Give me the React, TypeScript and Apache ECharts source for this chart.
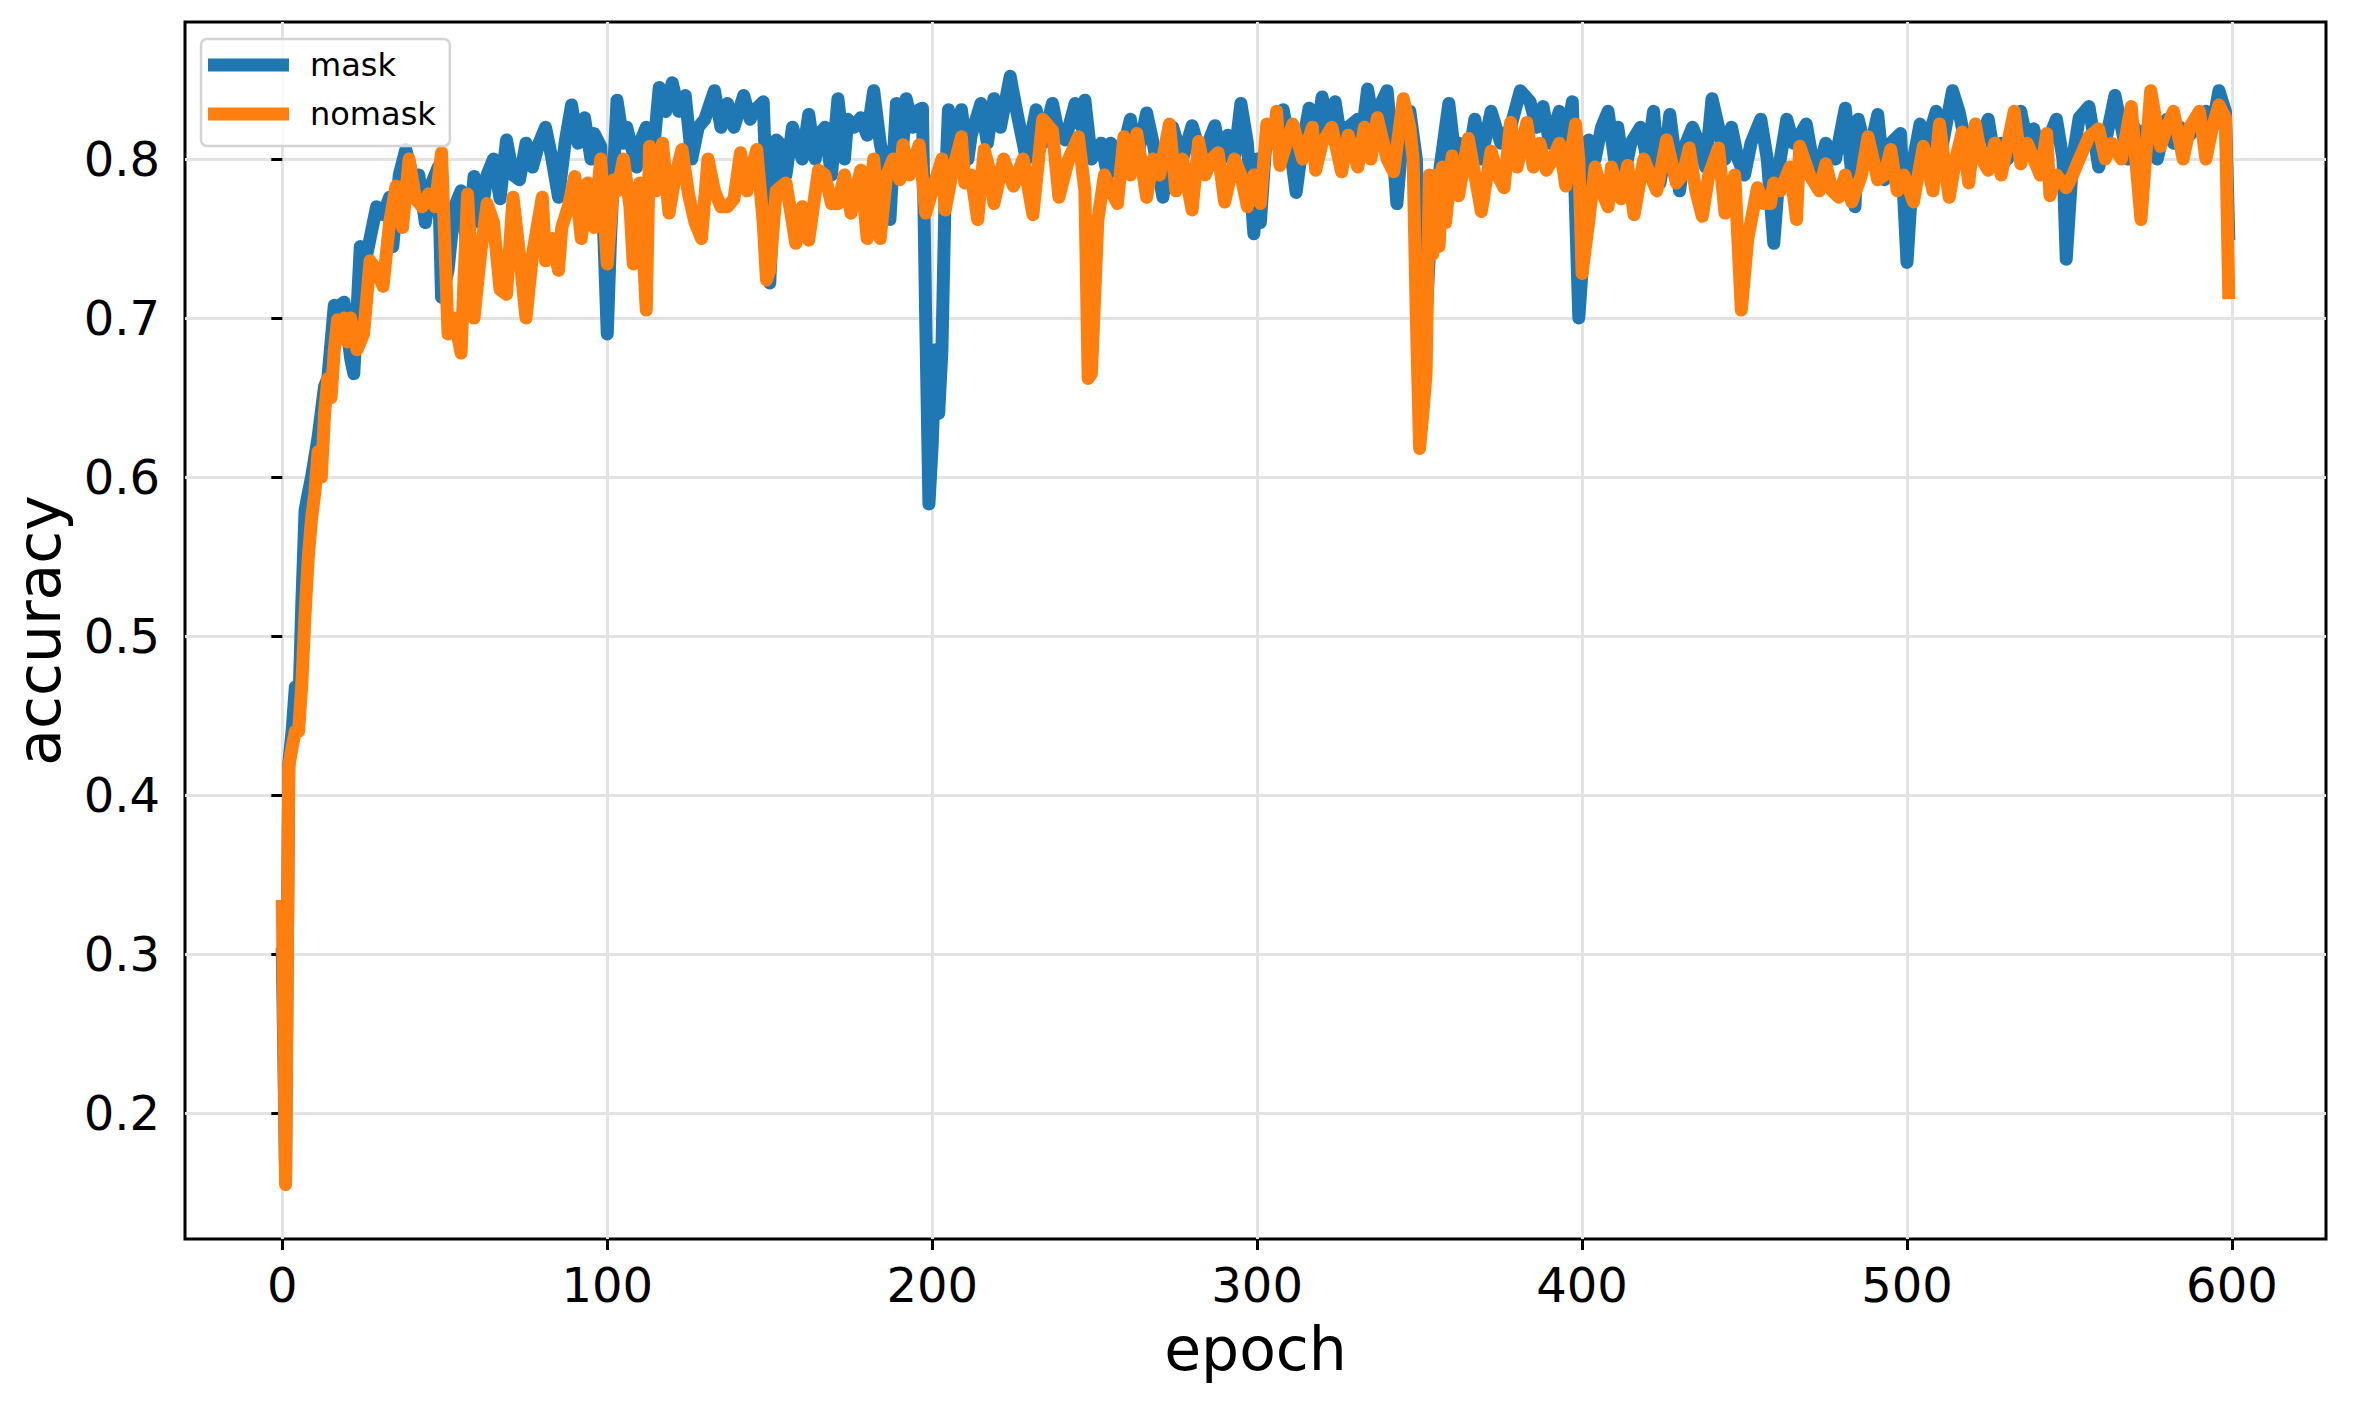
import React, { useEffect, useRef } from "react";
import * as echarts from "echarts";

// ---- data ----
const maskEpochs = [
  0, 1, 2, 3, 4, 5, 6, 7, 8, 9, 11, 13, 14, 16, 17, 19, 21, 22, 24, 26, 28, 29, 31, 33, 34, 36, 38, 40, 42, 44,
  46, 48, 49, 51, 53, 55, 57, 59, 61, 63, 65, 67, 69, 71, 73, 75, 77, 79, 81, 83, 85, 87, 89, 91, 93, 95, 96, 98, 100, 101,
  103, 105, 106, 109, 110, 112, 114, 116, 118, 120, 122, 124, 126, 128, 130, 133, 135, 137, 139, 142, 144, 145, 148, 150, 152, 153, 155, 157, 160, 162,
  164, 165, 167, 169, 171, 173, 174, 176, 178, 180, 182, 184, 185, 187, 189, 191, 192, 194, 195, 197, 198, 199, 200, 201, 202, 203, 204, 205, 207, 209,
  211, 212, 215, 217, 219, 221, 224, 226, 227, 229, 232, 234, 237, 239, 241, 244, 246, 247, 249, 252, 254, 255, 258, 261, 263, 266, 268, 271, 274, 277,
  280, 283, 287, 289, 291, 293, 295, 297, 299, 300, 301, 303, 305, 308, 310, 312, 314, 316, 318, 320, 322, 324, 326, 328, 331, 332, 334, 336, 337, 340,
  342, 343, 345, 347, 349, 351, 352, 354, 356, 359, 361, 362, 365, 367, 369, 372, 375, 378, 381, 384, 386, 388, 390, 393, 395, 397, 399, 400, 402, 404,
  406, 408, 410, 411, 413, 415, 418, 420, 422, 424, 426, 427, 430, 432, 434, 436, 438, 440, 442, 444, 446, 448, 450, 452, 455, 457, 459, 461, 463, 465,
  467, 469, 472, 475, 478, 481, 484, 485, 488, 491, 493, 495, 498, 500, 502, 504, 506, 509, 511, 514, 516, 518, 520, 522, 525, 527, 529, 531, 533, 535,
  537, 539, 541, 543, 546, 548, 549, 551, 553, 556, 559, 561, 564, 566, 568, 570, 572, 574, 577, 580, 582, 584, 587, 589, 592, 594, 596, 598, 599,
];
const maskAcc = [
  0.30, 0.16, 0.42, 0.44, 0.468, 0.45, 0.52, 0.579, 0.59, 0.60, 0.625, 0.657, 0.662, 0.708, 0.707, 0.71, 0.675, 0.665, 0.745, 0.74, 0.76, 0.77, 0.765, 0.776, 0.745, 0.79, 0.806, 0.79, 0.79, 0.76,
  0.785, 0.795, 0.713, 0.73, 0.77, 0.78, 0.74, 0.789, 0.76, 0.79, 0.80, 0.775, 0.812, 0.79, 0.787, 0.81, 0.795, 0.81, 0.82, 0.80, 0.776, 0.81, 0.834, 0.81, 0.826, 0.80, 0.816, 0.808, 0.69, 0.75,
  0.837, 0.81, 0.82, 0.795, 0.81, 0.82, 0.80, 0.845, 0.83, 0.848, 0.83, 0.84, 0.80, 0.82, 0.825, 0.843, 0.82, 0.835, 0.82, 0.84, 0.825, 0.83, 0.836, 0.722, 0.812, 0.81, 0.79, 0.82, 0.80, 0.828,
  0.80, 0.815, 0.82, 0.79, 0.838, 0.80, 0.825, 0.82, 0.826, 0.815, 0.843, 0.81, 0.80, 0.762, 0.835, 0.81, 0.838, 0.82, 0.83, 0.832, 0.70, 0.583, 0.62, 0.68, 0.64, 0.68, 0.78, 0.831, 0.80, 0.831,
  0.80, 0.815, 0.835, 0.81, 0.838, 0.82, 0.852, 0.83, 0.82, 0.80, 0.831, 0.81, 0.835, 0.815, 0.812, 0.835, 0.82, 0.837, 0.80, 0.81, 0.79, 0.81, 0.80, 0.825, 0.80, 0.829, 0.81, 0.776, 0.82, 0.80,
  0.821, 0.80, 0.821, 0.80, 0.815, 0.80, 0.835, 0.81, 0.753, 0.80, 0.76, 0.82, 0.81, 0.831, 0.81, 0.779, 0.81, 0.832, 0.81, 0.839, 0.82, 0.836, 0.81, 0.82, 0.825, 0.81, 0.844, 0.82, 0.83, 0.843,
  0.80, 0.772, 0.82, 0.83, 0.80, 0.667, 0.70, 0.78, 0.79, 0.835, 0.80, 0.81, 0.80, 0.825, 0.80, 0.83, 0.81, 0.82, 0.843, 0.836, 0.82, 0.833, 0.81, 0.83, 0.81, 0.836, 0.70, 0.73, 0.812, 0.80,
  0.82, 0.83, 0.80, 0.82, 0.79, 0.81, 0.82, 0.80, 0.83, 0.785, 0.81, 0.828, 0.78, 0.81, 0.82, 0.81, 0.795, 0.838, 0.82, 0.80, 0.82, 0.80, 0.79, 0.81, 0.825, 0.80, 0.747, 0.80, 0.825, 0.81,
  0.815, 0.822, 0.787, 0.81, 0.80, 0.832, 0.77, 0.825, 0.80, 0.828, 0.787, 0.81, 0.816, 0.735, 0.80, 0.822, 0.81, 0.83, 0.81, 0.843, 0.83, 0.81, 0.80, 0.81, 0.825, 0.80, 0.81, 0.80, 0.82, 0.83,
  0.81, 0.819, 0.80, 0.81, 0.825, 0.80, 0.737, 0.80, 0.826, 0.833, 0.795, 0.81, 0.84, 0.82, 0.80, 0.82, 0.81, 0.82, 0.80, 0.825, 0.81, 0.82, 0.815, 0.82, 0.83, 0.82, 0.843, 0.83, 0.753,
];

const nomaskEpochs = [
  0, 1, 2, 3, 4, 5, 6, 7, 8, 9, 10, 11, 12, 13, 14, 15, 16, 17, 18, 19, 20, 21, 23, 25, 27, 29, 31, 33, 35, 37,
  39, 41, 43, 45, 47, 49, 51, 53, 55, 57, 59, 61, 63, 65, 67, 69, 71, 73, 75, 77, 80, 81, 83, 85, 86, 88, 90, 92, 94, 96,
  98, 100, 102, 103, 105, 107, 108, 110, 112, 113, 115, 117, 119, 121, 123, 125, 127, 129, 131, 133, 135, 137, 139, 141, 143, 144, 146, 148, 149, 150,
  152, 155, 157, 158, 160, 162, 165, 167, 169, 171, 173, 175, 178, 180, 182, 184, 186, 188, 190, 191, 193, 196, 198, 200, 203, 204, 206, 209, 210, 212,
  214, 216, 218, 219, 222, 225, 228, 231, 234, 237, 239, 242, 245, 247, 248, 249, 251, 253, 255, 257, 259, 261, 263, 266, 268, 270, 273, 275, 277, 280,
  282, 284, 286, 288, 290, 293, 295, 297, 299, 301, 303, 305, 306, 307, 309, 311, 314, 317, 318, 320, 323, 326, 328, 331, 333, 335, 337, 340, 342, 345,
  347, 348, 349, 350, 351, 352, 353, 354, 355, 356, 357, 358, 360, 362, 365, 367, 369, 372, 374, 376, 378, 380, 383, 385, 387, 389, 391, 393, 395, 398,
  399, 400, 402, 404, 406, 408, 409, 412, 414, 416, 419, 421, 423, 426, 429, 431, 433, 435, 437, 439, 442, 444, 447, 449, 451, 454, 456, 458, 459, 461,
  464, 466, 467, 470, 473, 475, 477, 479, 481, 483, 486, 488, 491, 493, 495, 497, 499, 502, 505, 508, 510, 512, 513, 515, 517, 519, 521, 523, 525, 527,
  529, 531, 533, 535, 537, 539, 541, 543, 544, 546, 549, 551, 553, 556, 559, 561, 563, 566, 569, 572, 575, 578, 580, 582, 585, 587, 590, 592, 594, 596,
  598, 599,
];
const nomaskAcc = [
  0.33, 0.155, 0.418, 0.43, 0.44, 0.44, 0.47, 0.514, 0.55, 0.574, 0.59, 0.616, 0.60, 0.64, 0.662, 0.65, 0.68, 0.699, 0.69, 0.70, 0.685, 0.70, 0.68, 0.69, 0.736, 0.73, 0.72, 0.76, 0.783, 0.757,
  0.80, 0.775, 0.77, 0.778, 0.77, 0.804, 0.69, 0.70, 0.678, 0.778, 0.70, 0.74, 0.772, 0.76, 0.718, 0.715, 0.776, 0.74, 0.70, 0.74, 0.776, 0.736, 0.75, 0.73, 0.757, 0.77, 0.789, 0.75, 0.785, 0.757,
  0.80, 0.734, 0.787, 0.78, 0.80, 0.77, 0.734, 0.785, 0.705, 0.808, 0.78, 0.81, 0.766, 0.79, 0.806, 0.778, 0.76, 0.75, 0.80, 0.78, 0.77, 0.77, 0.775, 0.804, 0.78, 0.79, 0.806, 0.76, 0.724, 0.73,
  0.78, 0.785, 0.76, 0.747, 0.77, 0.749, 0.793, 0.79, 0.772, 0.772, 0.79, 0.766, 0.793, 0.75, 0.80, 0.75, 0.79, 0.80, 0.787, 0.809, 0.79, 0.809, 0.766, 0.78, 0.80, 0.768, 0.79, 0.814, 0.785, 0.79,
  0.762, 0.806, 0.79, 0.772, 0.80, 0.783, 0.80, 0.765, 0.825, 0.818, 0.776, 0.80, 0.814, 0.78, 0.662, 0.665, 0.762, 0.79, 0.78, 0.772, 0.814, 0.79, 0.816, 0.776, 0.80, 0.79, 0.822, 0.78, 0.80, 0.768,
  0.811, 0.79, 0.80, 0.804, 0.773, 0.80, 0.79, 0.77, 0.79, 0.772, 0.822, 0.81, 0.83, 0.796, 0.81, 0.822, 0.80, 0.82, 0.793, 0.81, 0.82, 0.792, 0.815, 0.795, 0.82, 0.80, 0.826, 0.80, 0.792, 0.838,
  0.82, 0.80, 0.70, 0.618, 0.64, 0.665, 0.79, 0.74, 0.79, 0.745, 0.795, 0.76, 0.802, 0.777, 0.813, 0.79, 0.767, 0.805, 0.79, 0.782, 0.823, 0.795, 0.823, 0.795, 0.81, 0.793, 0.80, 0.81, 0.783, 0.822,
  0.80, 0.728, 0.76, 0.795, 0.78, 0.77, 0.795, 0.775, 0.796, 0.765, 0.80, 0.79, 0.78, 0.812, 0.785, 0.79, 0.807, 0.78, 0.764, 0.79, 0.807, 0.766, 0.79, 0.705, 0.75, 0.782, 0.772, 0.772, 0.785, 0.78,
  0.795, 0.762, 0.808, 0.79, 0.78, 0.797, 0.78, 0.776, 0.79, 0.773, 0.79, 0.814, 0.787, 0.79, 0.806, 0.78, 0.79, 0.773, 0.808, 0.78, 0.822, 0.79, 0.776, 0.80, 0.817, 0.785, 0.822, 0.80, 0.793, 0.81,
  0.79, 0.81, 0.83, 0.797, 0.81, 0.80, 0.79, 0.816, 0.777, 0.79, 0.782, 0.79, 0.80, 0.814, 0.819, 0.80, 0.81, 0.80, 0.833, 0.762, 0.843, 0.808, 0.82, 0.83, 0.80, 0.82, 0.83, 0.80, 0.82, 0.834,
  0.826, 0.716,
];

const xTicks = [0, 100, 200, 300, 400, 500, 600];
const yTicks = [0.2, 0.3, 0.4, 0.5, 0.6, 0.7, 0.8];
const seriesNames = ["mask", "nomask"];
const seriesColors = ["#1f77b4", "#ff7f0e"];

const FONT = "DejaVu Sans";

function pairs(xs: number[], ys: number[]) {
  return xs.map((x, i) => [x, ys[i]]);
}

export default function App() {
  const ref = useRef<HTMLDivElement>(null);
  useEffect(() => {
    if (!ref.current) return;
    const chart = echarts.init(ref.current, null, { renderer: "svg" });
    const lineSeries = (name: string, color: string, data: number[][]) => ({
      name,
      type: "line",
      data,
      showSymbol: false,
      symbol: "none",
      lineStyle: { color, width: 13, join: "round", cap: "square" },
      itemStyle: { color },
      emphasis: { disabled: true },
      silent: true,
    });
    chart.setOption({
      animation: false,
      backgroundColor: "#ffffff",
      textStyle: { fontFamily: FONT },
      grid: {
        left: 185,
        right: 27,
        top: 22,
        bottom: 162,
        show: true,
        borderColor: "#000000",
        borderWidth: 3,
        backgroundColor: "transparent",
        containLabel: false,
      },
      legend: {
        data: seriesNames,
        left: 201,
        top: 39,
        orient: "vertical",
        icon: "rect",
        itemWidth: 81,
        itemHeight: 13,
        itemGap: 17,
        padding: [10, 14, 16, 7],
        backgroundColor: "rgba(255,255,255,0.8)",
        borderColor: "#d4d4d4",
        borderWidth: 2.5,
        borderRadius: 6,
        textStyle: {
          fontFamily: FONT,
          fontSize: 32,
          color: "#000000",
          padding: [0, 0, 0, 16],
        },
      },
      xAxis: {
        type: "value",
        min: -29.95,
        max: 628.95,
        name: "epoch",
        nameLocation: "middle",
        nameGap: 80,
        nameTextStyle: { fontFamily: FONT, fontSize: 60, color: "#000000" },
        axisLine: { show: false },
        axisTick: {
          show: true,
          customValues: xTicks,
          length: 11,
          lineStyle: { color: "#000000", width: 3 },
        },
        axisLabel: {
          customValues: xTicks,
          fontFamily: FONT,
          fontSize: 48,
          color: "#000000",
          margin: 22,
          formatter: (v: number) => String(v),
        },
        splitLine: { show: true, lineStyle: { color: "#e3e3e3", width: 3 } },
      },
      yAxis: {
        type: "value",
        min: 0.1208,
        max: 0.8862,
        name: "accuracy",
        nameLocation: "middle",
        nameGap: 116,
        nameTextStyle: { fontFamily: FONT, fontSize: 60, color: "#000000" },
        axisLine: { show: false },
        axisTick: {
          show: true,
          customValues: yTicks,
          length: 11,
          lineStyle: { color: "#000000", width: 3 },
        },
        axisLabel: {
          customValues: yTicks,
          fontFamily: FONT,
          fontSize: 48,
          color: "#000000",
          margin: 25,
          formatter: (v: number) => v.toFixed(1),
        },
        splitLine: { show: true, lineStyle: { color: "#e3e3e3", width: 3 } },
      },
      series: [
        lineSeries(seriesNames[0], seriesColors[0], pairs(maskEpochs, maskAcc)),
        lineSeries(seriesNames[1], seriesColors[1], pairs(nomaskEpochs, nomaskAcc)),
      ],
    });
    return () => chart.dispose();
  }, []);
  return (
    <div
      ref={ref}
      style={{ position: "absolute", left: 0, top: 0, width: 2353, height: 1401, background: "#fff" }}
    />
  );
}
